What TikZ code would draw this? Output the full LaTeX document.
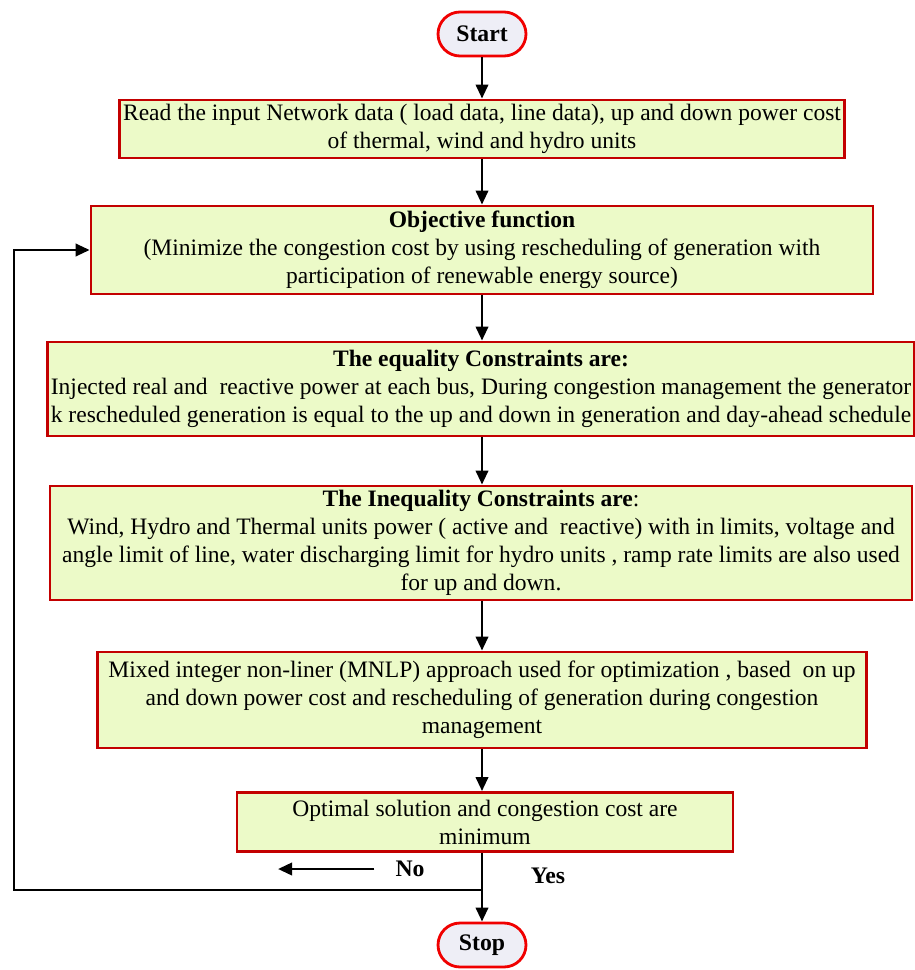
\documentclass[tikz,border=0pt]{standalone}
\usepackage{fontspec}
\setmainfont{Liberation Serif}
\usetikzlibrary{arrows.meta}
\definecolor{boxfill}{RGB}{236,250,200}
\definecolor{boxline}{RGB}{195,0,0}
\definecolor{termfill}{RGB}{238,238,246}
\definecolor{termline}{RGB}{240,0,0}
\tikzset{
  stepbox/.style={draw=boxline, fill=boxfill, line width=1.6pt, align=center,
    inner sep=2pt, font=\fontsize{13.4}{16}\selectfont},
  terminal/.style={draw=termline, fill=termfill, line width=1.6pt,
    rounded corners=0.44cm, minimum width=1.76cm, minimum height=0.88cm,
    font=\fontsize{13.5}{15}\selectfont\bfseries},
  flow/.style={line width=1.6pt, -{Triangle[length=8pt,width=7pt]}},
  mark label/.style={font=\fontsize{13.5}{15}\selectfont\bfseries}
}

\begin{document}
\begin{tikzpicture}[x=0.02cm,y=-0.02cm]
    \useasboundingbox (0,0) rectangle (914,970);
    \node[terminal] (start) at (482,34) {Start};
    \node[stepbox, minimum width=14.46cm, minimum height=1.16cm] (read) at (482,129)
      {Read the input Network data ( load data, line data), up and down power cost\\
       of thermal, wind and hydro units};
    \node[stepbox, minimum width=15.64cm, minimum height=1.76cm] (obj) at (482,250)
      {\textbf{Objective function}\\
       (Minimize the congestion cost by using rescheduling of generation with\\
       participation of renewable energy source)};
    \node[stepbox, minimum width=17.24cm, minimum height=1.88cm] (eq) at (481,389)
      {\textbf{The equality Constraints are:}\\
       Injected real and\ \ reactive power at each bus, During congestion management the generator\\
       k rescheduled generation is equal to the up and down in generation and day-ahead schedule};
    \node[stepbox, minimum width=17.24cm, minimum height=2.28cm] (ineq) at (481,543)
      {\textbf{The Inequality Constraints are}:\\
       Wind, Hydro and Thermal units power ( active and\ \ reactive) with in limits, voltage and\\
       angle limit of line, water discharging limit for hydro units , ramp rate limits are also used\\
       for up and down.};
    \node[stepbox, minimum width=15.38cm, minimum height=1.92cm] (mnlp) at (482,700)
      {Mixed integer non-liner (MNLP) approach used for optimization , based\ \ on up\\
       and down power cost and rescheduling of generation during congestion\\
       management};
    \node[stepbox, minimum width=9.92cm, minimum height=1.18cm] (opt) at (485,822)
      {Optimal solution and congestion cost are\\
       minimum};
    \node[terminal] (stop) at (482,945) {Stop};
    \draw[flow] (start) -- (read);
    \draw[flow] (read) -- (obj);
    \draw[flow] (obj) -- (eq.north -| obj);
    \draw[flow] (eq.south -| obj) -- (ineq.north -| obj);
    \draw[flow] (ineq.south -| obj) -- (mnlp);
    \draw[flow] (mnlp) -- (opt.north -| mnlp);
    \draw[flow] (opt.south -| stop) -- (stop);
    % loop back when the cost is not minimum
    \coordinate (split) at (482,890);
    \draw[flow] (split) -- (14,890) |- (obj.west);
    \node[mark label] (no) at (410,869) {No};
    \coordinate (noend) at (278,869);
    \draw[flow] ([xshift=-0.3cm]no.west) -- (noend);
    \node[mark label] (yes) at (548,876) {Yes};
\end{tikzpicture}
\end{document}
